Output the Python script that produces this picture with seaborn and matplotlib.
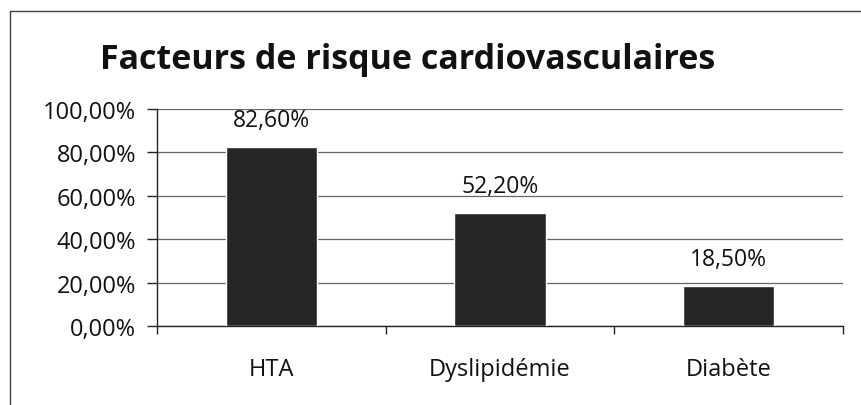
import matplotlib
matplotlib.use('Agg')
import matplotlib.pyplot as plt
import seaborn as sns
import pandas as pd
from matplotlib.lines import Line2D
from matplotlib.ticker import FuncFormatter, FixedLocator

categories = ['HTA', 'Dyslipidémie', 'Diabète']
values = [82.6, 52.2, 18.5]
yticks = [0, 20, 40, 60, 80, 100]

df = pd.DataFrame({'facteur': categories, 'pct': values})

sns.set_style('white')
plt.rcParams['font.family'] = ['Open Sans', 'DejaVu Sans']

fig = plt.figure(figsize=(8.61, 4.06), dpi=100)
ax = fig.add_axes([0.1823, 0.1946, 0.7967, 0.5344])

sns.barplot(data=df, x='facteur', y='pct', color='#262626', width=0.4,
            saturation=1, ax=ax, zorder=3)

ax.set_ylim(0, 100)
ax.set_xlim(-0.5, len(categories) - 0.5)
ax.set_yticks(yticks)
ax.yaxis.set_major_formatter(FuncFormatter(lambda v, p: f'{v:.2f}%'.replace('.', ',')))
ax.grid(axis='y', color='#666666', linewidth=0.9, zorder=0)
ax.set_xlabel('')
ax.set_ylabel('')

for s in ['top', 'right']:
    ax.spines[s].set_visible(False)
for s in ['left', 'bottom']:
    ax.spines[s].set_color('#222222')
    ax.spines[s].set_linewidth(1.0)

ax.tick_params(axis='y', which='major', length=7, width=1, color='#222222',
               labelsize=17, pad=8, direction='out', left=True, labelcolor='#111111')
ax.tick_params(axis='x', which='major', length=0, labelsize=17, pad=22,
               labelcolor='#111111')
ax.xaxis.set_minor_locator(FixedLocator([-0.5, 0.5, 1.5, 2.5]))
ax.tick_params(axis='x', which='minor', length=6, width=1, color='#222222',
               direction='out', bottom=True)

for i, v in enumerate(values):
    ax.text(i, v + 12.3, f'{v:.2f}%'.replace('.', ','), ha='center',
            va='center', fontsize=16.5, color='#111111')

fig.text(0.473, 0.853, 'Facteurs de risque cardiovasculaires', ha='center',
         va='center', fontsize=24.5, fontweight='bold', color='#111111')

# chart frame (only top and left edges show in the scan)
top = 1 - 12 / 406
left = 10 / 861
fig.add_artist(Line2D([left, 1], [top, top], transform=fig.transFigure,
                      color='#444444', linewidth=1))
fig.add_artist(Line2D([left, left], [0, top], transform=fig.transFigure,
                      color='#444444', linewidth=1))

fig.savefig('out.png', dpi=100)
